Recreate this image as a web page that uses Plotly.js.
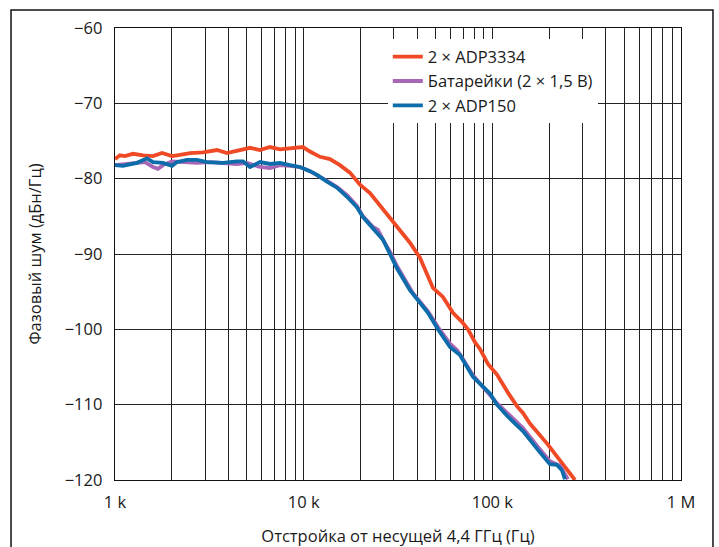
<!DOCTYPE html>
<html>
<head>
<meta charset="utf-8">
<script src="https://cdn.plot.ly/plotly-3.0.1.min.js"></script>
<style>html,body{margin:0;padding:0;background:#fff;}#chart{width:719px;height:547px;}</style>
</head>
<body>
<div id="chart"></div>
<script>
// Frequency offsets (Hz) and phase noise (dBc/Hz)
const adp3334Freq = [1000,1063,1130,1245,1408,1590,1775,2005,2131,2498,2927,3472,3923,4597,5193,5867,6629,7489,8776,9915,10800,12200,13790,15570,17590,18700,19880,22460,25370,28660,32380,36590,41330,45580,48450,54730,61840,69020,74260,80880,85970,94780,105800,121000,135000,145300,158200,172400,197100,228200,260000,274100];
const adp3334Noise = [-77.4,-76.9,-77.0,-76.7,-76.9,-77.0,-76.6,-77.0,-76.9,-76.6,-76.5,-76.2,-76.6,-76.2,-75.9,-76.2,-75.8,-76.1,-75.9,-75.8,-76.4,-77.1,-77.4,-78.2,-79.2,-80.0,-80.8,-81.9,-83.5,-85.1,-86.8,-88.5,-90.5,-93.0,-94.5,-95.7,-97.8,-99.0,-100.0,-101.7,-102.6,-104.6,-106.0,-108.4,-110.2,-111.1,-112.5,-113.6,-115.3,-117.4,-119.4,-120.0];

const batteryFreq = [1000,1103,1308,1442,1590,1690,1797,2005,2211,2720,3188,3736,4431,5006,5867,6629,7489,8462,9559,10800,11770,13290,15020,16970,19160,20620,23290,24760,26320,28660,31220,36590,37950,45580,51490,59620,64930,67350,78930,105800,121000,145300,174500,202000,228200,251600];
const batteryNoise = [-78.2,-78.05,-77.9,-77.8,-78.45,-78.7,-78.2,-77.7,-77.8,-77.9,-77.8,-77.9,-78.05,-77.9,-78.45,-78.6,-78.2,-78.3,-78.45,-79.0,-79.5,-80.3,-81.1,-82.2,-83.6,-85.0,-86.4,-86.8,-88.1,-89.7,-91.6,-94.6,-95.2,-97.6,-99.7,-101.9,-102.75,-103.3,-106.1,-109.8,-111.2,-113.1,-115.6,-117.5,-118.1,-119.9];

const adp150Freq = [1000,1103,1308,1478,1590,1797,2005,2131,2408,2720,3073,3736,4431,4768,5193,5655,5867,6629,7489,8462,9559,10800,11770,13290,15020,16970,19160,20620,23290,26320,28660,31220,36590,37950,45580,51490,59620,67350,78930,97100,105800,121000,145300,174500,202000,220000,233800,242600];
const adp150Noise = [-78.2,-78.3,-77.9,-77.3,-77.8,-77.9,-78.3,-77.8,-77.5,-77.5,-77.8,-77.9,-77.7,-77.7,-78.45,-78.05,-77.8,-78.05,-77.9,-78.2,-78.45,-79.0,-79.5,-80.4,-81.2,-82.4,-83.8,-85.1,-86.55,-88.1,-90.0,-91.9,-94.8,-95.3,-97.8,-100.0,-102.35,-103.4,-106.3,-108.5,-110.0,-111.6,-113.5,-116.0,-117.9,-118.0,-118.7,-119.9];

const seriesNames = ['2 × ADP3334', 'Батарейки (2 × 1,5 В)', '2 × ADP150'];
const xTickVals = [1000, 10000, 100000, 1000000];
const xTickText = ['1 k', '10 k', '100 k', '1 M'];
const yTickVals = [-120, -110, -100, -90, -80, -70, -60];

const FONT = 'Open Sans, Noto Sans, sans-serif';
const FS = 16.5;
const TXT = '#1a1a1a';

const traces = [
  {x: adp3334Freq, y: adp3334Noise, name: seriesNames[0], mode: 'lines', line: {color: '#ef4a25', width: 3.8}},
  {x: batteryFreq, y: batteryNoise, name: seriesNames[1], mode: 'lines', line: {color: '#a866b6', width: 3.8}},
  {x: adp150Freq, y: adp150Noise, name: seriesNames[2], mode: 'lines', line: {color: '#0d6dab', width: 3.8}}
];

const layout = {
  width: 719, height: 547,
  margin: {l: 115, r: 38, t: 28, b: 67},
  paper_bgcolor: '#fff', plot_bgcolor: '#fff',
  font: {family: FONT, size: FS, color: TXT},
  showlegend: true,
  legend: {x: 0.482, y: 0.975, xanchor: 'left', yanchor: 'top', bgcolor: '#fff', borderwidth: 0,
           font: {family: FONT, size: FS, color: TXT}, tracegroupgap: 0},
  xaxis: {
    type: 'log', range: [3, 6],
    tickmode: 'array', tickvals: xTickVals, ticktext: xTickText,
    showgrid: true, gridcolor: '#222', gridwidth: 1,
    minor: {dtick: 'D1', showgrid: true, gridcolor: '#222', gridwidth: 1, ticks: ''},
    showline: true, mirror: true, linecolor: '#111', linewidth: 1.3,
    ticks: '', zeroline: false, ticklabelstandoff: 7,
    tickfont: {family: FONT, size: FS, color: TXT},
    title: {text: 'Отстройка от несущей 4,4 ГГц (Гц)', font: {family: FONT, size: FS, color: TXT}, standoff: 20}
  },
  yaxis: {
    range: [-120, -60], tickmode: 'array', tickvals: yTickVals,
    showgrid: true, gridcolor: '#222', gridwidth: 1,
    showline: true, mirror: true, linecolor: '#111', linewidth: 1.3,
    ticks: '', zeroline: false, ticklabelstandoff: 8,
    tickfont: {family: FONT, size: FS, color: TXT},
    title: {text: 'Фазовый шум (дБн/Гц)', font: {family: FONT, size: FS, color: TXT}, standoff: 19}
  },
  shapes: [
    {type: 'rect', xref: 'paper', yref: 'paper', x0: -0.1837, x1: 1.0565, y0: -0.2, y1: 1.0398,
     line: {color: '#111', width: 1.5}, fillcolor: 'rgba(0,0,0,0)', layer: 'below'}
  ]
};

Plotly.newPlot('chart', traces, layout, {displayModeBar: false, staticPlot: true});
</script>
</body>
</html>
